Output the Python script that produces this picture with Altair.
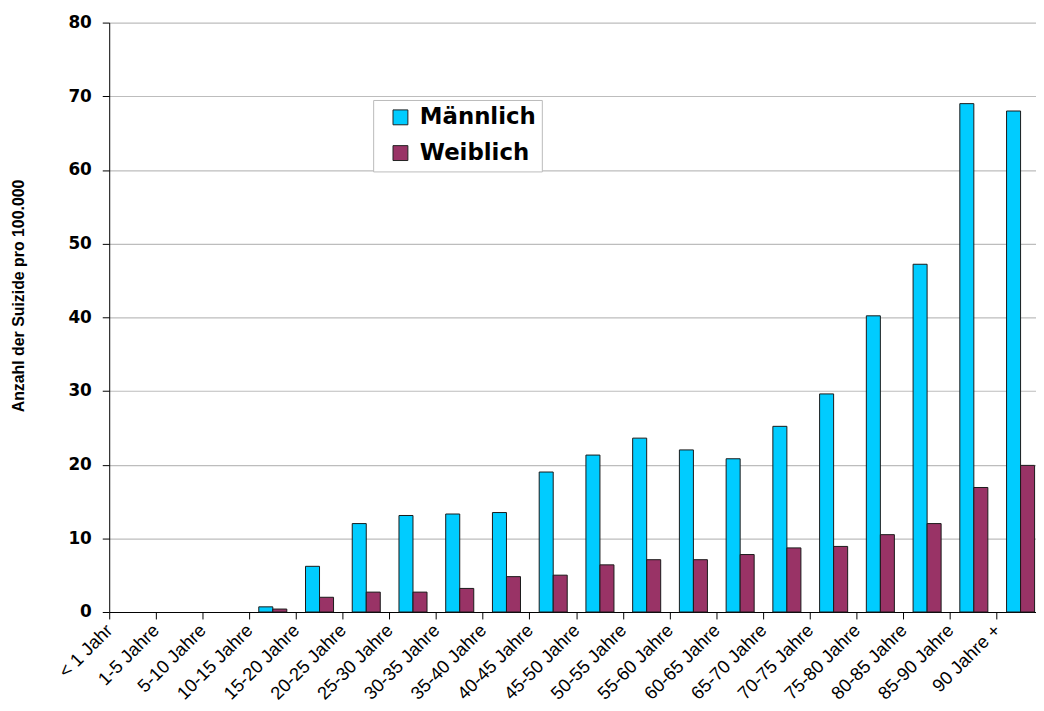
import altair as alt
import pandas as pd

categories = ["< 1 Jahr", "1-5 Jahre", "5-10 Jahre", "10-15 Jahre", "15-20 Jahre",
              "20-25 Jahre", "25-30 Jahre", "30-35 Jahre", "35-40 Jahre", "40-45 Jahre",
              "45-50 Jahre", "50-55 Jahre", "55-60 Jahre", "60-65 Jahre", "65-70 Jahre",
              "70-75 Jahre", "75-80 Jahre", "80-85 Jahre", "85-90 Jahre", "90 Jahre +"]
maennlich = [0, 0, 0, 0.7, 6.2, 12.0, 13.1, 13.3, 13.5, 19.0,
             21.3, 23.6, 22.0, 20.8, 25.2, 29.6, 40.2, 47.2, 69.0, 68.0]
weiblich = [0, 0, 0, 0.4, 2.0, 2.7, 2.7, 3.2, 4.8, 5.0,
            6.4, 7.1, 7.1, 7.8, 8.7, 8.9, 10.5, 12.0, 16.9, 19.9]
series = ["Männlich", "Weiblich"]
colors = ["#00CCFF", "#993366"]
y_ticks = [0, 10, 20, 30, 40, 50, 60, 70, 80]

rows = []
for c, m, w in zip(categories, maennlich, weiblich):
    rows.append({"Alter": c, "Geschlecht": series[0], "Wert": m})
    rows.append({"Alter": c, "Geschlecht": series[1], "Wert": w})
df = pd.DataFrame(rows)

chart = alt.Chart(df).mark_bar(stroke="#1a1a1a", strokeWidth=1).encode(
    x=alt.X("Alter:N", sort=categories,
            scale=alt.Scale(domain=categories, range=[0, 942], paddingInner=0, paddingOuter=0),
            axis=alt.Axis(title=None, bandPosition=0, labelOffset=-23.5, labelAngle=-45,
                          labelAlign="right", labelBaseline="middle", labelFontSize=18.5,
                          labelFont="Liberation Sans", labelColor="black", tickSize=7,
                          tickColor="black", tickWidth=1, domainColor="black", domainWidth=1,
                          labelPadding=8, grid=False, labelOverlap=False)),
    xOffset=alt.XOffset("Geschlecht:N", sort=series,
                        scale=alt.Scale(paddingInner=0, paddingOuter=0.667)),
    y=alt.Y("Wert:Q", scale=alt.Scale(domain=[0, 80], nice=False),
            axis=alt.Axis(values=y_ticks, title="Anzahl der Suizide pro 100.000",
                          titleX=-91, titleY=275, titleAngle=-90, titleAlign="center",
                          titleBaseline="middle", titleFont="Liberation Sans",
                          titleFontSize=16, titleFontWeight="bold", titleColor="black",
                          labelFont="DejaVu Sans", labelFontWeight="bold", labelFontSize=17,
                          labelColor="black", labelPadding=11, tickSize=7, tickColor="black",
                          domainColor="black", domainWidth=1,
                          grid=True, gridColor="#BDBDBD", gridWidth=1.2)),
    color=alt.Color("Geschlecht:N", sort=series,
                    scale=alt.Scale(domain=series, range=colors),
                    legend=alt.Legend(title=None, orient="none", legendX=266, legendY=78,
                                      direction="vertical", symbolType="square",
                                      symbolSize=225, symbolOffset=10,
                                      symbolStrokeColor="#222222", symbolStrokeWidth=1,
                                      labelFont="DejaVu Sans", labelFontWeight="bold",
                                      labelFontSize=23, labelColor="black", labelOffset=8,
                                      padding=6, rowPadding=12, strokeColor="#BBBBBB",
                                      fillColor="white")),
).transform_filter(
    "datum.Wert > 0"
).properties(
    width=934, height=594,
    autosize=alt.AutoSizeParams(type="none"),
    padding={"left": 102, "top": 12, "right": 0, "bottom": 89},
).configure_view(stroke=None)

chart.save("out.html", embed_options={"renderer": "svg", "actions": False})
